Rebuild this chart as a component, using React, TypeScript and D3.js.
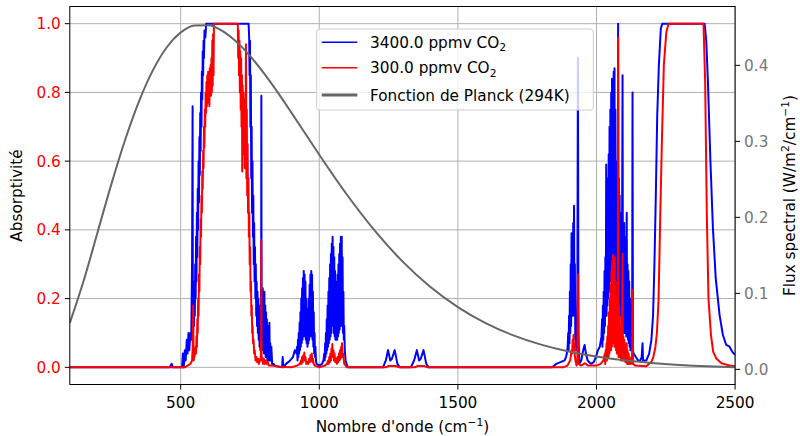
import React from "react";
import * as d3 from "d3";

// Wavenumber (cm^-1) / absorptivity pairs, 3400 ppmv CO2
const co2High: [number, number][] = [
  [100,0],[460,0],[468,0.01],[471,0],[505,0],[508,0.04],[511,0],[515,0.05],[518,0.02],[522,0.08],[525,0.04],[528,0.1],[531,0.05],[535,0.1],[538,0.08],[541,0.3],[543,0.76],[544,0.1],
  [545,0.1],[546.5,0.2],[548,0.12],[549.5,0.25],[551,0.15],[552.5,0.3],[554,0.2],[555.5,0.38],[557,0.25],[558.5,0.45],[560,0.32],[561.5,0.52],[563,0.4],[564.5,0.6],[566,0.48],[567.5,0.67],[569,0.56],[570.5,0.74],[572,0.63],[573.5,0.8],[575,0.7],[576.5,0.86],[578,0.78],[579.5,0.92],[581,0.85],[582.5,0.95],[584,0.9],[586,0.98],[589,0.96],[592,1.0],
  [745,1.0],[747,0.96],[748.5,0.85],[750,0.95],[751.5,0.7],[753,0.85],[754.5,0.55],[756,0.7],[757.5,0.45],[759,0.6],[760.5,0.38],[762,0.5],[763.5,0.3],[765,0.42],[766.5,0.25],[768,0.35],[769.5,0.2],[771,0.3],[772.5,0.15],[774,0.25],[775.5,0.12],[777,0.22],[778.5,0.1],[780,0.2],[781.5,0.08],[783,0.18],[784.5,0.06],[786,0.15],[787.5,0.05],[789,0.12],[790.5,0.3],[791,0.79],[791.8,0.05],[793,0.2],[794.5,0.06],[796,0.23],[797.5,0.05],[799,0.2],[800.5,0.04],[802,0.22],[803.5,0.04],[805,0.18],[806.5,0.03],[808,0.16],[809.5,0.03],[811,0.14],[812.5,0.02],[814,0.12],[815.5,0.02],[817,0.1],[818.5,0.02],[820,0.13],[821.5,0.02],[823,0.07],[825,0.02],[827,0.06],[830,0.01],[835,0.01],[840,0.005],
  [866,0.0],[868,0.03],[870,0],[880,0.01],[895,0.02],[905,0.03],[912,0.05],[918,0.04],
  [920,0.06],[921.5,0.02],[923,0.08],[924.5,0.03],[926,0.1],[927.5,0.04],[929,0.13],[930.5,0.05],[932,0.16],[933.5,0.06],[935,0.2],[936.5,0.07],[938,0.23],[939.5,0.08],[941,0.26],[942.5,0.09],[944,0.28],[945.5,0.1],[947,0.27],[948.5,0.09],[950,0.25],[951.5,0.08],[953,0.2],[954.5,0.07],[956,0.15],[957.5,0.06],[959,0.17],[960.5,0.07],[962,0.2],[963.5,0.08],[965,0.24],[966.5,0.09],[968,0.27],[969.5,0.1],[971,0.28],[972.5,0.09],[974,0.27],[975.5,0.08],[977,0.22],[978.5,0.06],[980,0.16],[981.5,0.04],[983,0.1],[984.5,0.03],[986,0.06],[988,0.02],[990,0.01],[1000,0.005],
  [1010,0.01],[1015,0.02],[1018,0.04],[1019.5,0.02],[1021,0.07],[1022.5,0.03],[1024,0.1],[1025.5,0.04],[1027,0.14],[1028.5,0.05],[1030,0.18],[1031.5,0.06],[1033,0.22],[1034.5,0.07],[1036,0.26],[1037.5,0.08],[1039,0.3],[1040.5,0.09],[1042,0.33],[1043.5,0.1],[1045,0.36],[1046.5,0.12],[1048,0.38],[1049.5,0.12],[1051,0.35],[1052.5,0.1],[1054,0.32],[1055.5,0.09],[1057,0.28],[1058.5,0.08],[1060,0.25],[1061.5,0.08],[1063,0.24],[1064.5,0.08],[1066,0.27],[1067.5,0.09],[1069,0.3],[1070.5,0.1],[1072,0.33],[1073.5,0.11],[1075,0.36],[1076.5,0.12],[1078,0.38],[1079.5,0.13],[1081,0.38],[1082.5,0.12],[1084,0.32],[1085.5,0.1],[1087,0.22],[1088.5,0.08],[1090,0.12],[1092,0.05],[1095,0.02],[1100,0.005],[1105,0],
  [1230,0],[1240,0.02],[1248,0.05],[1256,0.02],[1262,0.025],[1272,0.05],[1282,0.01],[1290,0],[1330,0],[1342,0.02],[1352,0.05],[1360,0.02],[1366,0.025],[1376,0.05],[1386,0.01],[1395,0],
  [1840,0],[1855,0.01],[1870,0.015],[1885,0.02],[1890,0.03],
  [1893,0.04],[1896,0.06],[1898,0.1],[1899.5,0.05],[1901,0.15],[1902.5,0.07],[1904,0.22],[1905.5,0.1],[1907,0.3],[1908.5,0.12],[1910,0.39],[1911.5,0.15],[1913,0.35],[1914.5,0.15],[1916,0.42],[1917.5,0.18],[1919,0.47],[1920.5,0.15],[1922,0.3],[1923.5,0.08],[1925,0.12],[1927,0.05],[1929,0.07],[1931,0.2],[1933,0.9],[1935,0.1],[1938,0.01],
  [1945,0.02],[1952,0.05],[1957,0.065],[1962,0.04],[1968,0.02],[1980,0.01],[1990,0.015],[1998,0.03],[2005,0.05],[2012,0.06],
  [2018,0.09],[2020,0.14],[2021.5,0.06],[2023,0.18],[2024.5,0.08],[2026,0.22],[2027.5,0.1],[2029,0.28],[2030.5,0.12],[2032,0.32],[2033.5,0.15],[2035,0.59],[2036.5,0.15],[2038,0.45],[2039.5,0.18],[2041,0.55],[2042.5,0.2],[2044,0.62],[2045.5,0.22],[2047,0.7],[2048.5,0.25],[2050,0.75],[2051.5,0.25],[2053,0.8],[2054.5,0.3],[2056,0.84],[2057.5,0.3],[2059,0.8],[2060.5,0.28],[2062,0.86],[2063.5,0.3],[2065,0.87],[2066.5,0.28],[2068,0.75],[2069.5,0.25],[2071,0.6],[2072.5,0.2],[2074,0.55],[2075.5,0.2],[2077,0.6],[2078,1.0],[2079,0.2],[2080.5,0.55],[2082,0.18],[2083.5,0.5],[2085,0.15],[2086.5,0.45],[2088,0.15],[2089.5,0.4],[2091,0.12],[2092.5,0.45],[2094,0.85],[2095.5,0.12],[2097,0.4],[2098.5,0.1],[2100,0.42],[2101.5,0.1],[2103,0.38],[2104.5,0.1],[2106,0.35],[2107.5,0.09],[2109,0.45],[2110.5,0.09],[2112,0.3],[2113.5,0.08],[2115,0.28],[2116.5,0.07],[2118,0.25],[2119.5,0.06],[2121,0.2],[2122.5,0.05],[2124,0.18],[2125.5,0.05],[2127,0.15],[2128.5,0.06],[2130,0.8],[2131.5,0.05],[2134,0.04],
  [2142,0.03],[2150,0.02],[2158,0.02],[2163,0.03],[2166,0.07],[2168,0.02],[2180,0.02],[2190,0.04],[2198,0.08],
  [2204,0.15],[2209,0.3],[2214,0.5],[2219,0.73],[2225,0.88],[2232,0.985],[2237,1.0],[2390,1.0],[2396,0.95],[2402,0.83],[2411,0.6],[2420,0.405],[2430,0.26],[2444,0.152],[2456,0.094],[2468,0.065],[2480,0.06],[2490,0.045],[2500,0.036],
];

// 300 ppmv CO2
const co2Low: [number, number][] = [
  [100,0],[515,0],[525,0.005],[535,0.01],[541,0.02],[543,0.05],[545,0.18],[546.5,0.02],[549,0.03],[552,0.04],
  [554,0.06],[555.5,0.04],[557,0.09],[558.5,0.06],[560,0.14],[561.5,0.1],[563,0.2],[564.5,0.15],[566,0.27],[567.5,0.22],[569,0.35],[570.5,0.3],[572,0.43],[573.5,0.38],[575,0.5],[576.5,0.45],[578,0.57],[579.5,0.52],[581,0.63],[582.5,0.58],[584,0.7],[585.5,0.64],[587,0.75],[588.5,0.7],[590,0.8],[591.5,0.74],[593,0.83],[594.5,0.76],[596,0.85],[597.5,0.78],[599,0.86],[600.5,0.77],[602,0.85],[603.5,0.76],[605,0.87],[606.5,0.8],[608,0.88],[609.5,0.79],[611,0.9],[612.5,0.8],[614,0.95],[615.5,0.82],[617,0.97],[618.5,0.85],[620,1.0],
  [706,1.0],[707.5,0.9],[709,0.98],[710.5,0.85],[712,0.95],[713.5,0.8],[715,0.92],[716.5,0.75],[718,0.9],[719.5,0.7],[721,0.85],[722,0.57],[723.5,0.82],[725,0.68],[726.5,0.8],[728,0.62],[729.5,0.78],[731,0.58],[732.5,0.72],[734,0.6],[735.5,0.94],[737,0.55],[738.5,0.75],[740,0.5],[741.5,0.65],[743,0.45],[744.5,0.55],[746,0.38],[747.5,0.45],[749,0.3],[750.5,0.35],[752,0.22],[753.5,0.25],[755,0.15],[756.5,0.18],[758,0.1],[759.5,0.12],[761,0.07],[763,0.08],[765,0.04],[767,0.05],[770,0.02],[773,0.03],[776,0.015],[779,0.025],[782,0.01],[786,0.02],[789,0.03],[790.5,0.1],[791,0.37],[791.8,0.02],[794,0.03],[797,0.01],[800,0.025],[803,0.01],[806,0.02],[810,0.01],[814,0.015],[818,0.005],[830,0.005],[850,0.002],[900,0],
  [920,0.005],[930,0.01],[934,0.02],[936,0.01],[938,0.03],[940,0.015],[942,0.035],[944,0.02],[946,0.043],[948,0.02],[950,0.03],[953,0.01],[956,0.015],[960,0.01],[963,0.025],[966,0.015],[968,0.035],[970,0.02],[973,0.04],[975,0.015],[977,0.025],[980,0.01],[984,0.005],[1000,0],
  [1020,0.005],[1028,0.01],[1032,0.02],[1034,0.01],[1036,0.03],[1038,0.015],[1040,0.04],[1042,0.02],[1044,0.055],[1046,0.03],[1047,0.068],[1049,0.03],[1051,0.05],[1053,0.02],[1055,0.04],[1058,0.015],[1061,0.025],[1064,0.01],[1066,0.03],[1068,0.015],[1071,0.04],[1073,0.02],[1075,0.05],[1077,0.025],[1079,0.06],[1080.5,0.03],[1082,0.07],[1084,0.03],[1086,0.04],[1090,0.01],[1100,0],
  [1240,0],[1250,0.004],[1275,0.004],[1290,0],[1345,0],[1355,0.004],[1378,0.004],[1390,0],
  [1880,0],[1895,0.005],[1905,0.02],[1908,0.035],[1910,0.05],[1912,0.04],[1914,0.08],[1915.5,0.05],[1917,0.094],[1918.5,0.06],[1920,0.07],[1922,0.03],[1924,0.02],[1928,0.005],[1931,0.02],[1933,0.27],[1935,0.01],[1945,0.005],[1958,0.012],[1970,0.005],[2000,0.005],
  [2015,0.01],[2025,0.02],[2030,0.04],[2031.5,0.01],[2033,0.05],[2034.5,0.02],[2036,0.07],[2037.5,0.02],[2039,0.09],[2040.5,0.03],[2042,0.12],[2043.5,0.03],[2045,0.16],[2046.5,0.04],[2048,0.2],[2049.5,0.05],[2051,0.24],[2052.5,0.05],[2054,0.28],[2055.5,0.06],[2057,0.31],[2058.5,0.07],[2060,0.327],[2061.5,0.07],[2063,0.3],[2064.5,0.06],[2066,0.32],[2067.5,0.06],[2069,0.25],[2070.5,0.05],[2072,0.2],[2073.5,0.04],[2075,0.18],[2076.5,0.04],[2078,0.96],[2079.5,0.03],[2081,0.18],[2082.5,0.03],[2084,0.15],[2085.5,0.03],[2087,0.12],[2088.5,0.02],[2090,0.1],[2091.5,0.02],[2094,0.33],[2095.5,0.02],[2097,0.09],[2098.5,0.02],[2100,0.08],[2101.5,0.02],[2103,0.07],[2104.5,0.015],[2106,0.06],[2107.5,0.015],[2109,0.07],[2110.5,0.01],[2112,0.05],[2114,0.01],[2116,0.04],[2118,0.01],[2120,0.03],[2122,0.01],[2125,0.02],[2128,0.01],[2130,0.225],[2132,0.01],[2140,0.005],[2180,0.003],
  [2198,0.016],[2205,0.03],[2212,0.056],[2218,0.1],[2224,0.2],[2230,0.44],[2236,0.66],[2243,0.88],[2252,0.976],[2260,1.0],[2386,1.0],[2392,0.83],[2398,0.44],[2404,0.2],[2413,0.094],[2421,0.045],[2433,0.025],[2451,0.012],[2481,0.005],[2500,0.003],
];

// Planck flux (W/m2/cm-1)
const planckNu = [100,150,200,250,300,350,400,450,500,550,600,650,700,750,800,850,900,950,1000,1100,1200,1300,1400,1500,1600,1700,1800,1900,2000,2100,2200,2300,2400,2500];
const planckFlux = [0.0610,0.1165,0.1802,0.2437,0.3024,0.3530,0.3937,0.4238,0.4432,0.4525,0.4528,0.4454,0.4314,0.4125,0.3897,0.3644,0.3375,0.3099,0.2824,0.2297,0.1825,0.1421,0.1087,0.0820,0.0609,0.0448,0.0326,0.0235,0.0168,0.0119,0.0084,0.0059,0.0041,0.0029];

const xTicks = [500, 1000, 1500, 2000, 2500];
const yLeftTicks = [0, 0.2, 0.4, 0.6, 0.8, 1.0];
const yRightTicks = [0, 0.1, 0.2, 0.3, 0.4];

const W = 800, H = 436;
const L = 69.8, R = 735.1, T = 6.5, B = 384.5;
const FONT = "'DejaVu Sans', sans-serif";
const FS = 15.3;

export default function App() {
  const x = d3.scaleLinear().domain([100, 2500]).range([L, R]);
  const yL = d3.scaleLinear().domain([-0.05, 1.05]).range([B, T]);
  const yR = d3.scaleLinear().domain([-0.0199, 0.4774]).range([B, T]);

  const lineL = d3.line<[number, number]>().x(d => x(d[0])).y(d => yL(d[1]));
  const planckPts: [number, number][] = planckNu.map((n, i) => [n, planckFlux[i]]);
  const lineP = d3.line<[number, number]>().x(d => x(d[0])).y(d => yR(d[1])).curve(d3.curveMonotoneX);

  const legendItems = [
    { color: "#0000ff", w: 1.5, label: "3400.0 ppmv CO", sub: true },
    { color: "#ff0000", w: 1.5, label: "300.0 ppmv CO", sub: true },
    { color: "#666666", w: 3, label: "Fonction de Planck (294K)", sub: false },
  ];
  const legendRows = [42.3, 67.7, 95];

  return (
    <svg width={W} height={H} style={{ position: "absolute", left: 0, top: 0, background: "#fff" }} fontFamily={FONT}>
      <defs>
        <clipPath id="plot"><rect x={L} y={T} width={R - L} height={B - T} /></clipPath>
      </defs>
      <rect x={0} y={0} width={W} height={H} fill="#fff" />
      {xTicks.map(t => (
        <line key={"gx" + t} x1={x(t)} x2={x(t)} y1={T} y2={B} stroke="#b0b0b0" strokeWidth={1} />
      ))}
      {yLeftTicks.map(t => (
        <line key={"gy" + t} x1={L} x2={R} y1={yL(t)} y2={yL(t)} stroke="#b0b0b0" strokeWidth={1} />
      ))}
      <g clipPath="url(#plot)">
        <path d={lineL(co2High) || ""} fill="none" stroke="#0000ff" strokeWidth={2} strokeLinejoin="round" />
        <path d={lineL(co2Low) || ""} fill="none" stroke="#ff0000" strokeWidth={2} strokeLinejoin="round" />
        <path d={lineP(planckPts) || ""} fill="none" stroke="#666666" strokeWidth={2} />
      </g>
      <rect x={L} y={T} width={R - L} height={B - T} fill="none" stroke="#000" strokeWidth={1} />
      {xTicks.map(t => (
        <g key={"xt" + t}>
          <line x1={x(t)} x2={x(t)} y1={B} y2={B + 5} stroke="#000" />
          <text x={x(t)} y={B + 23} textAnchor="middle" fontSize={FS} fill="#000">{t}</text>
        </g>
      ))}
      {yLeftTicks.map(t => (
        <g key={"yl" + t}>
          <line x1={L - 5} x2={L} y1={yL(t)} y2={yL(t)} stroke="#000" />
          <text x={L - 9} y={yL(t) + 5.5} textAnchor="end" fontSize={FS} fill="#ff0000">{t.toFixed(1)}</text>
        </g>
      ))}
      {yRightTicks.map(t => (
        <g key={"yr" + t}>
          <line x1={R} x2={R + 5} y1={yR(t)} y2={yR(t)} stroke="#000" />
          <text x={R + 9} y={yR(t) + 5.5} textAnchor="start" fontSize={FS} fill="#777777">{t.toFixed(1)}</text>
        </g>
      ))}
      <text x={(L + R) / 2} y={432} textAnchor="middle" fontSize={FS} fill="#000">
        Nombre d'onde (cm<tspan dy={-6} fontSize={FS * 0.7}>−1</tspan><tspan dy={6}>)</tspan>
      </text>
      <text transform={`translate(22,${(T + B) / 2}) rotate(-90)`} textAnchor="middle" fontSize={FS} fill="#000">Absorptivité</text>
      <text transform={`translate(795,${(T + B) / 2}) rotate(-90)`} textAnchor="middle" fontSize={FS} fill="#000">
        Flux spectral (W/m<tspan dy={-6} fontSize={FS * 0.7}>2</tspan><tspan dy={6}>/cm</tspan><tspan dy={-6} fontSize={FS * 0.7}>−1</tspan><tspan dy={6}>)</tspan>
      </text>
      <rect x={316.7} y={29} width={276.6} height={81} rx={3} fill="#fff" fillOpacity={0.8} stroke="#cccccc" strokeWidth={1} />
      {legendItems.map((it, i) => (
        <g key={"lg" + i}>
          <line x1={321.7} x2={357.3} y1={legendRows[i]} y2={legendRows[i]} stroke={it.color} strokeWidth={it.w} />
          <text x={370} y={legendRows[i] + 5.5} fontSize={FS} fill="#000">
            {it.label}{it.sub ? <tspan dy={3.5} fontSize={FS * 0.7}>2</tspan> : null}
          </text>
        </g>
      ))}
    </svg>
  );
}
